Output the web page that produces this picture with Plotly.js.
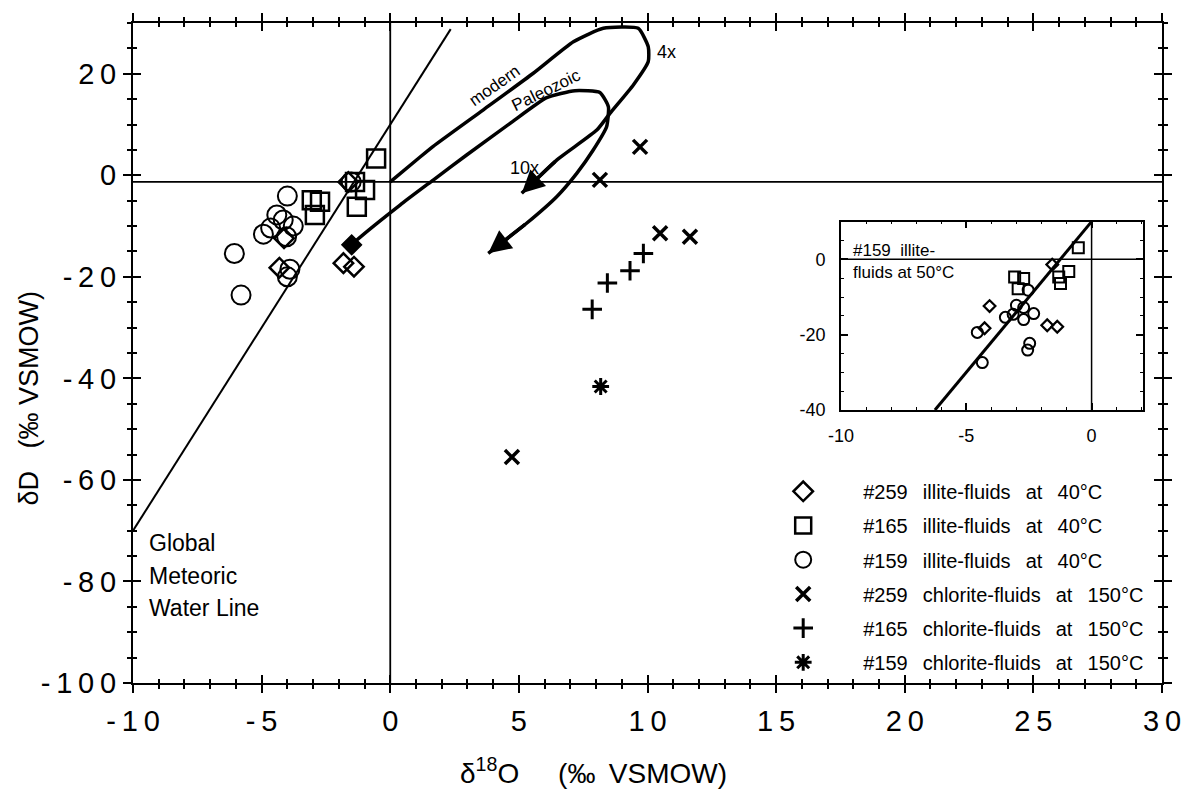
<!DOCTYPE html>
<html><head><meta charset="utf-8">
<script src="https://cdn.plot.ly/plotly-3.0.1.min.js"></script>
<style>html,body{margin:0;padding:0;background:#fff}</style>
</head><body><div id="chart" style="width:1187px;height:793px"></div>
<script>
// ---------- main plot data (δ18O, δD) ----------
const ill259X = [-4.13, -4.31, -1.82, -1.41, -1.63];
const ill259Y = [-12.4, -18.2, -17.3, -18.0, -1.3];
const ill165X = [-0.55, -3.05, -2.73, -2.93, -0.98, -1.30, -1.37];
const ill165Y = [3.3, -4.9, -5.2, -7.8, -2.9, -6.2, -1.3];
const ill159X = [-4.0, -4.41, -4.16, -3.77, -4.65, -4.93, -4.03, -6.06, -3.90, -4.0, -5.80, -1.52];
const ill159Y = [-4.1, -7.8, -8.8, -10.0, -10.4, -11.6, -12.1, -15.4, -18.5, -20.0, -23.6, -1.3];
const chl259X = [9.71, 8.15, 10.49, 11.65, 4.73];
const chl259Y = [5.6, -0.9, -11.4, -12.1, -55.5];
const chl165X = [9.84, 9.32, 8.44, 7.85];
const chl165Y = [-15.4, -18.8, -21.2, -26.4];
const chl159X = [8.18];
const chl159Y = [-41.6];
const filledX = [-1.50];
const filledY = [-13.7];

// Global Meteoric Water Line
const gmwlX = [-10, 2.35];
const gmwlY = [-70, 28.8];

// seawater evolution curves (end with an arrowhead)
const modernX = [0.0, 1.16, 1.67, 3.62, 5.56, 7.12, 8.28, 9.64, 10.03, 10.03, 9.45, 8.54, 8.03, 6.47, 5.11];
const modernY = [-1.3, 3.6, 5.7, 12.9, 20.1, 26.3, 28.95, 28.95, 25.3, 22.4, 17.8, 12.2, 8.9, 3.0, -3.55];
const paleoX = [-1.50, -1.30, 0.38, 1.67, 2.97, 4.66, 6.08, 7.18, 8.15, 8.48, 8.41, 7.89, 7.25, 6.47, 5.30, 3.81];
const paleoY = [-13.7, -12.74, -5.85, -0.93, 4.0, 10.24, 15.3, 16.67, 16.3, 13.5, 9.57, 4.98, 0.39, -4.21, -9.45, -15.36];

// ---------- inset data (#159 illite-fluids at 50°C) ----------
const insSqX = [-0.53, -3.07, -2.71, -2.93, -0.91, -1.24, -1.31];
const insSqY = [3.1, -4.7, -5.1, -7.8, -3.2, -6.4, -4.7];
const insDiX = [-1.57, -4.07, -4.27, -1.77, -1.37];
const insDiY = [-1.4, -12.4, -18.3, -17.5, -17.9];
const insCiX = [-2.53, -3.0, -2.71, -3.13, -3.44, -2.31, -2.71, -4.56, -2.47, -2.55, -4.36];
const insCiY = [-8.2, -12.2, -12.8, -14.6, -15.4, -14.4, -16.0, -19.4, -22.3, -24.1, -27.4];
const insGmwlX = [-6.25, 0];
const insGmwlY = [-40, 10];

// ---------- tick labels ----------
const g = '\u2009';
const xTickVals = [-10, -5, 0, 5, 10, 15, 20, 25, 30];
const xTickText = ['-' + g + '1' + g + '0', '-' + g + '5', '0', '5', '1' + g + '0', '1' + g + '5', '2' + g + '0', '2' + g + '5', '3' + g + '0'];
const yTickVals = [-100, -80, -60, -40, -20, 0, 20];
const yTickText = ['-' + g + '1' + g + '0' + g + '0', '-' + g + '8' + g + '0', '-' + g + '6' + g + '0', '-' + g + '4' + g + '0', '-' + g + '2' + g + '0', '0', '2' + g + '0'];
const insXTickVals = [-10, -5, 0];
const insXTickText = ['-10', '-5', '0'];
const insYTickVals = [-40, -20, 0];
const insYTickText = ['-40', '-20', '0'];

const sp = '\u00a0\u00a0\u2009';
const names = [
  '#259' + sp + 'illite-fluids' + sp + 'at' + sp + '40°C',
  '#165' + sp + 'illite-fluids' + sp + 'at' + sp + '40°C',
  '#159' + sp + 'illite-fluids' + sp + 'at' + sp + '40°C',
  '#259' + sp + 'chlorite-fluids' + sp + 'at' + sp + '150°C',
  '#165' + sp + 'chlorite-fluids' + sp + 'at' + sp + '150°C',
  '#159' + sp + 'chlorite-fluids' + sp + 'at' + sp + '150°C'
];

const FONT = 'Liberation Sans, Arial, Helvetica, sans-serif';
const K = '#000';

function pts(x, y, name, symbol, size, lw, group) {
  return {type: 'scatter', mode: 'markers', x: x, y: y, name: name, legendgroup: group,
    marker: {symbol: symbol, size: size, color: K, line: {color: K, width: lw}},
    hoverinfo: 'x+y'};
}

const traces = [
  pts(ill259X, ill259Y, names[0], 'diamond-open', 15, 2.5, 'g1'),
  pts(ill165X, ill165Y, names[1], 'square-open', 18, 2.5, 'g2'),
  pts(ill159X, ill159Y, names[2], 'circle-open', 19, 2, 'g3'),
  pts(chl259X, chl259Y, names[3], 'x-thin-open', 14, 3.5, 'g4'),
  pts(chl165X, chl165Y, names[4], 'cross-thin-open', 14, 3, 'g5'),
  pts(chl159X, chl159Y, names[5], 'asterisk-open', 14, 3, 'g6'),
  {type: 'scatter', mode: 'markers', x: filledX, y: filledY, showlegend: false, name: 'filled',
    marker: {symbol: 'diamond', size: 15, color: K, line: {color: K, width: 1.5}}},
  {type: 'scatter', mode: 'lines', x: gmwlX, y: gmwlY, showlegend: false, name: 'GMWL',
    line: {color: K, width: 2}, hoverinfo: 'skip'},
  {type: 'scatter', mode: 'lines', x: modernX, y: modernY, showlegend: false, name: 'modern',
    line: {color: K, width: 3.5, shape: 'spline', smoothing: 0.5}, hoverinfo: 'skip'},
  {type: 'scatter', mode: 'lines', x: paleoX, y: paleoY, showlegend: false, name: 'Paleozoic',
    line: {color: K, width: 3.5, shape: 'spline', smoothing: 0.5}, hoverinfo: 'skip'},
  {type: 'scatter', mode: 'markers', x: [], y: [], xaxis: 'x2', yaxis: 'y2', showlegend: false},
  // inset
  {type: 'scatter', mode: 'lines', x: insGmwlX, y: insGmwlY, xaxis: 'x3', yaxis: 'y3', showlegend: false,
    line: {color: K, width: 3}, hoverinfo: 'skip'},
  Object.assign(pts(insSqX, insSqY, 'inset #165', 'square-open', 11, 2, 'g2'), {xaxis: 'x3', yaxis: 'y3', showlegend: false}),
  Object.assign(pts(insDiX, insDiY, 'inset #259', 'diamond-open', 9, 2.2, 'g1'), {xaxis: 'x3', yaxis: 'y3', showlegend: false}),
  Object.assign(pts(insCiX, insCiY, 'inset #159', 'circle-open', 11, 2, 'g3'), {xaxis: 'x3', yaxis: 'y3', showlegend: false})
];

const mainX = {
  range: [-10, 30], tickvals: xTickVals, ticktext: xTickText,
  ticks: 'outside', ticklen: 8, tickwidth: 2, tickcolor: K,
  minor: {dtick: 1, ticks: 'outside', ticklen: 4, tickwidth: 1.5, tickcolor: K, showgrid: false},
  showline: true, linewidth: 2, linecolor: K, mirror: 'ticks',
  showgrid: false, zeroline: false, fixedrange: true,
  tickfont: {family: FONT, size: 29, color: K}, ticklabelstandoff: 3
};
const mainY = {
  range: [-100, 30], tickvals: yTickVals, ticktext: yTickText,
  ticks: 'outside', ticklen: 8, tickwidth: 2, tickcolor: K,
  minor: {dtick: 5, ticks: 'outside', ticklen: 4, tickwidth: 1.5, tickcolor: K, showgrid: false},
  showline: true, linewidth: 2, linecolor: K, mirror: 'ticks',
  showgrid: false, zeroline: false, fixedrange: true,
  tickfont: {family: FONT, size: 29, color: K}, ticklabelstandoff: 1
};

const layout = {
  width: 1187, height: 793,
  margin: {l: 133, r: 25, t: 23, b: 110},
  paper_bgcolor: '#fff', plot_bgcolor: '#fff',
  font: {family: FONT, color: K},
  showlegend: true,
  legend: {x: 0.593, y: 0.32, xanchor: 'left', yanchor: 'top', bgcolor: 'rgba(0,0,0,0)',
    borderwidth: 0, font: {family: FONT, size: 20, color: K}, itemwidth: 110,
    tracegroupgap: 5.2, traceorder: 'grouped'},
  xaxis: mainX,
  yaxis: mainY,
  xaxis2: Object.assign({}, mainX, {overlaying: 'x', anchor: 'y2', ticks: 'inside', showticklabels: false,
    minor: {dtick: 1, ticks: 'inside', ticklen: 4, tickwidth: 1.5, tickcolor: K, showgrid: false}}),
  yaxis2: Object.assign({}, mainY, {overlaying: 'y', anchor: 'x2', ticks: 'inside', showticklabels: false,
    minor: {dtick: 5, ticks: 'inside', ticklen: 4, tickwidth: 1.5, tickcolor: K, showgrid: false}}),
  xaxis3: {domain: [0.688, 0.9815], anchor: 'y3', range: [-10, 2.05],
    tickvals: insXTickVals, ticktext: insXTickText, ticks: 'inside', ticklen: 7, tickwidth: 1.5, tickcolor: K,
    minor: {dtick: 1, ticks: 'inside', ticklen: 3, tickwidth: 1, tickcolor: K, showgrid: false},
    showline: true, linewidth: 1.5, linecolor: K, mirror: 'ticks', showgrid: false, zeroline: false,
    fixedrange: true, tickfont: {family: FONT, size: 18, color: K}, ticklabelstandoff: 9},
  yaxis3: {domain: [0.4136, 0.699], anchor: 'x3', range: [-40, 10],
    tickvals: insYTickVals, ticktext: insYTickText, ticks: 'inside', ticklen: 7, tickwidth: 1.5, tickcolor: K,
    minor: {dtick: 5, ticks: 'inside', ticklen: 3, tickwidth: 1, tickcolor: K, showgrid: false},
    showline: true, linewidth: 1.5, linecolor: K, mirror: 'ticks', showgrid: false, zeroline: false,
    fixedrange: true, tickfont: {family: FONT, size: 18, color: K}, ticklabelstandoff: 10},
  shapes: [
    {type: 'line', xref: 'x', yref: 'y', x0: -10, x1: 30, y0: -1.3, y1: -1.3, line: {color: K, width: 1.8}},
    {type: 'line', xref: 'x', yref: 'y', x0: 0, x1: 0, y0: -100, y1: 30, line: {color: K, width: 1.8}},
    {type: 'line', xref: 'x3', yref: 'y3', x0: -10, x1: 2.05, y0: 0, y1: 0, line: {color: K, width: 1.5}},
    {type: 'line', xref: 'x3', yref: 'y3', x0: 0, x1: 0, y0: -40, y1: 10, line: {color: K, width: 1.5}}
  ],
  annotations: []
};

const A = layout.annotations;
// axis titles
A.push({xref: 'paper', yref: 'paper', x: 0.448, y: -0.163, showarrow: false,
  text: 'δ<sup>18</sup>O\u00a0\u00a0\u00a0\u00a0\u00a0(‰\u00a0\u2009VSMOW)', font: {family: FONT, size: 28, color: K}});
A.push({xref: 'paper', yref: 'paper', x: -0.118, y: 0.432, showarrow: false, textangle: -90,
  text: 'δD\u00a0\u00a0\u00a0(‰\u00a0VSMOW)', font: {family: FONT, size: 27, color: K}});
// GMWL label lines
const gmwlLines = ['Global', 'Meteoric', 'Water Line'];
gmwlLines.forEach(function (t, i) {
  A.push({xref: 'paper', yref: 'paper', x: 0.0136, y: (683 - (543 + i * 32.5)) / 660, xanchor: 'left', yanchor: 'middle',
    showarrow: false, text: t, font: {family: FONT, size: 23, color: K}});
});
// curve labels
A.push({xref: 'x', yref: 'y', x: 4.07, y: 17.6, text: 'modern', textangle: -35, showarrow: false, font: {family: FONT, size: 17, color: K}});
A.push({xref: 'x', yref: 'y', x: 6.04, y: 16.8, text: 'Paleozoic', textangle: -26, showarrow: false, font: {family: FONT, size: 17, color: K}});
A.push({xref: 'x', yref: 'y', x: 10.75, y: 24.35, text: '4x', showarrow: false, font: {family: FONT, size: 18, color: K}});
A.push({xref: 'x', yref: 'y', x: 5.2, y: 1.44, text: '10x', showarrow: false, font: {family: FONT, size: 18, color: K}});
// arrowheads at curve ends
[[modernX, modernY], [paleoX, paleoY]].forEach(function (c) {
  const n = c[0].length;
  A.push({xref: 'x', yref: 'y', axref: 'x', ayref: 'y', x: c[0][n - 1], y: c[1][n - 1], ax: c[0][n - 2], ay: c[1][n - 2],
    text: '', showarrow: true, arrowhead: 2, arrowsize: 1.3, arrowwidth: 3.5, arrowcolor: K, standoff: 0});
});
// inset label
A.push({xref: 'x3', yref: 'y3', x: -9.6, y: -0.66, xanchor: 'left', yanchor: 'middle', align: 'left', showarrow: false,
  text: '#159\u00a0\u00a0illite-<br>fluids at 50°C', font: {family: FONT, size: 17, color: K}});

Plotly.newPlot('chart', traces, layout, {displayModeBar: false, staticPlot: false});
</script>
</body></html>
